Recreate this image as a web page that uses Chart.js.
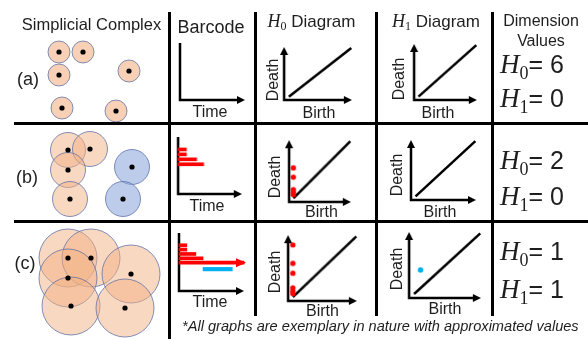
<!DOCTYPE html>
<html>
<head>
<meta charset="utf-8">
<script src="https://cdn.jsdelivr.net/npm/chart.js@4.4.0/dist/chart.umd.min.js"></script>
<style>
html, body { margin: 0; padding: 0; background: #fff; }
body { width: 588px; height: 339px; position: relative; overflow: hidden; font-family: "Liberation Sans", Arial, sans-serif; color: #1e1e1e; }
canvas { position: absolute; z-index: 1; }
.ln { position: absolute; background: #000; z-index: 3; }
.t { position: absolute; z-index: 4; white-space: nowrap; line-height: 1; transform: translate(-50%, -50%); }
.l { position: absolute; z-index: 4; white-space: nowrap; line-height: 1; transform: translateY(-50%); }
.H { font-family: "Liberation Serif", "DejaVu Serif", serif; font-style: italic; }
.sub { font-family: "Liberation Serif", "DejaVu Serif", serif; position: relative; }
.rot { transform: translate(-50%, -50%) rotate(-90deg); }
</style>
</head>
<body>

<!-- table lines -->
<div class="ln" style="left:14px;top:122px;width:574px;height:3px"></div>
<div class="ln" style="left:14px;top:219.5px;width:574px;height:3px"></div>
<div class="ln" style="left:167.5px;top:12px;width:3px;height:327px"></div>
<div class="ln" style="left:253.5px;top:12px;width:3px;height:304px"></div>
<div class="ln" style="left:374.5px;top:12px;width:3px;height:304px"></div>
<div class="ln" style="left:490.5px;top:12px;width:3px;height:304px"></div>

<!-- headers -->
<div class="t" style="left:91.5px;top:24px;font-size:16.5px">Simplicial Complex</div>
<div class="t" style="left:211px;top:27px;font-size:18px">Barcode</div>
<div class="t" style="left:311.5px;top:21px;font-size:17px"><span class="H" style="font-size:18px">H</span><span class="sub" style="font-size:12px;top:3px">0</span> Diagram</div>
<div class="t" style="left:436px;top:21px;font-size:17px"><span class="H" style="font-size:18px">H</span><span class="sub" style="font-size:12px;top:3px">1</span> Diagram</div>
<div class="t" style="left:541px;top:21px;font-size:16px">Dimension</div>
<div class="t" style="left:541px;top:41px;font-size:16px">Values</div>

<!-- row labels -->
<div class="t" style="left:28px;top:79px;font-size:18px">(a)</div>
<div class="t" style="left:27px;top:177px;font-size:18px">(b)</div>
<div class="t" style="left:25px;top:263px;font-size:18px">(c)</div>

<!-- axis labels -->
<div class="t" style="left:210px;top:112px;font-size:16px">Time</div>
<div class="t" style="left:207px;top:206px;font-size:16px">Time</div>
<div class="t" style="left:210px;top:302px;font-size:16px">Time</div>

<div class="t" style="left:319px;top:113px;font-size:16px">Birth</div>
<div class="t" style="left:438px;top:113px;font-size:16px">Birth</div>
<div class="t" style="left:321.5px;top:212px;font-size:16px">Birth</div>
<div class="t" style="left:440px;top:212px;font-size:16px">Birth</div>
<div class="t" style="left:322.5px;top:311px;font-size:16px">Birth</div>
<div class="t" style="left:445px;top:309px;font-size:16px">Birth</div>

<div class="t rot" style="left:273px;top:80px;font-size:16px">Death</div>
<div class="t rot" style="left:399px;top:79px;font-size:16px">Death</div>
<div class="t rot" style="left:275px;top:177px;font-size:16px">Death</div>
<div class="t rot" style="left:397px;top:175px;font-size:16px">Death</div>
<div class="t rot" style="left:275px;top:272px;font-size:16px">Death</div>
<div class="t rot" style="left:397px;top:269px;font-size:16px">Death</div>

<!-- dimension values -->
<div class="l" style="left:500px;top:64px;font-size:25px"><span class="H" style="font-size:27px">H</span><span class="sub" style="font-size:18px;top:6px">0</span>= 6</div>
<div class="l" style="left:500px;top:98px;font-size:25px"><span class="H" style="font-size:27px">H</span><span class="sub" style="font-size:18px;top:6px">1</span>= 0</div>
<div class="l" style="left:500px;top:160px;font-size:25px"><span class="H" style="font-size:27px">H</span><span class="sub" style="font-size:18px;top:6px">0</span>= 2</div>
<div class="l" style="left:500px;top:196px;font-size:25px"><span class="H" style="font-size:27px">H</span><span class="sub" style="font-size:18px;top:6px">1</span>= 0</div>
<div class="l" style="left:500px;top:251px;font-size:25px"><span class="H" style="font-size:27px">H</span><span class="sub" style="font-size:18px;top:6px">0</span>= 1</div>
<div class="l" style="left:500px;top:289px;font-size:25px"><span class="H" style="font-size:27px">H</span><span class="sub" style="font-size:18px;top:6px">1</span>= 1</div>

<div class="l" style="left:182px;top:326px;font-size:14.6px;font-style:italic">*All graphs are exemplary in nature with approximated values</div>

<script>
// ---- simplicial complexes: point centres [x, y] ----
const complexA = [[2.9, 7.3], [5.3, 7.3], [2.9, 5.0], [9.9, 5.4], [3.2, 1.7], [8.6, 1.4]];
const complexB_orange = [[3.8, 7.2], [6.0, 7.3], [3.8, 5.2], [4.0, 2.3]];
const complexB_blue = [[10.2, 5.5], [9.3, 2.3]];
const complexC = [[3.8, 8.1], [6.1, 8.1], [3.8, 6.1], [4.1, 3.3], [10.1, 6.5], [9.5, 3.1]];

// ---- barcodes: [birth, death] ----
const barcodeB_H0 = [[0, 1.3], [0, 1.3], [0, 2.9], [0, 4.0]];
const barcodeC_H0 = [[0, 1.2], [0, 1.2], [0, 2.6], [0, 3.7], [0, Infinity]];
const barcodeC_H1 = [[3.7, 8.2]];
const TIME_MAX = 10;

// ---- persistence diagrams ----
const diagonal = [0, 9.2];
const diagramB_H0_death = [4.9, 3.4, 1.4, 1.0, 0.6];
const diagramC_H0_death = [7.9, 5.1, 3.6, 1.4, 0.9, 0.5];
const diagramC_H1 = [[0.9, 3.65]];

const RED = '#ff0000';
const BLUE = '#00b0f0';
const ORANGE_FILL = 'rgba(244, 177, 131, 0.5)';
const BLUE_FILL = 'rgba(143, 170, 220, 0.6)';
const EDGE = 'rgba(90, 110, 165, 0.75)';

function toPoints(list) {
    return list.map(p => ({ x: p[0], y: p[1] }));
}

function head(ctx, x, y, dir, half, len) {
    ctx.beginPath();
    if (dir === 'right') {
        ctx.moveTo(x, y);
        ctx.lineTo(x - len, y - half);
        ctx.lineTo(x - len, y + half);
    } else {
        ctx.moveTo(x, y);
        ctx.lineTo(x - half, y + len);
        ctx.lineTo(x + half, y + len);
    }
    ctx.closePath();
    ctx.fill();
}

// L-shaped axes with arrow heads, drawn from the chart area
const arrowAxes = {
    id: 'arrowAxes',
    beforeDatasetsDraw(chart, args, opts) {
        const a = chart.chartArea;
        const ctx = chart.ctx;
        ctx.save();
        ctx.strokeStyle = '#000';
        ctx.fillStyle = '#000';
        ctx.lineWidth = 2.5;
        ctx.beginPath();
        ctx.moveTo(a.left, a.top + (opts.yArrow ? 6 : 0));
        ctx.lineTo(a.left, a.bottom);
        ctx.lineTo(a.right - 6, a.bottom);
        ctx.stroke();
        head(ctx, a.right, a.bottom, 'right', 4, 8);
        if (opts.yArrow) head(ctx, a.left, a.top, 'up', 4, 8);
        ctx.restore();
    }
};

// arrow heads on bars that never die
const infiniteBars = {
    id: 'infiniteBars',
    afterDatasetsDraw(chart) {
        const ctx = chart.ctx;
        const max = chart.scales.x.max;
        chart.data.datasets.forEach((ds, i) => {
            const meta = chart.getDatasetMeta(i);
            meta.data.forEach((el, j) => {
                const p = meta._parsed[j];
                if (p && p._custom && p._custom.barEnd >= max) {
                    ctx.save();
                    ctx.fillStyle = ds.backgroundColor;
                    head(ctx, el.x + 2, el.y, 'right', 4.5, 10);
                    ctx.restore();
                }
            });
        });
    }
};

function makeCanvas(left, top, width, height) {
    const c = document.createElement('canvas');
    c.width = width;
    c.height = height;
    c.style.left = left + 'px';
    c.style.top = top + 'px';
    c.style.width = width + 'px';
    c.style.height = height + 'px';
    document.body.appendChild(c);
    return c;
}

const baseOptions = {
    responsive: false,
    animation: false,
    events: [],
    plugins: { legend: { display: false }, tooltip: { enabled: false } }
};

function complexChart(frame, yMax, datasets) {
    const c = makeCanvas(frame[0], frame[1], frame[2], frame[3]);
    return new Chart(c, {
        type: 'scatter',
        data: { datasets: datasets },
        options: Object.assign({}, baseOptions, {
            layout: { padding: 0, autoPadding: false },
            scales: {
                x: { type: 'linear', min: 0, max: 14, display: false },
                y: { type: 'linear', min: 0, max: yMax, display: false }
            }
        })
    });
}

// higher order is drawn first (underneath)
function circles(list, r, fill) {
    return { data: toPoints(list), pointRadius: r, backgroundColor: fill, borderColor: EDGE, borderWidth: 1, clip: false, order: 2 };
}
function dots(list) {
    return { data: toPoints(list), pointRadius: 2.6, backgroundColor: '#000', borderWidth: 0, clip: false, order: 0 };
}

complexChart([30, 20, 140, 105], 10.5, [
    circles(complexA, 11, 'rgba(244, 177, 131, 0.6)'),
    dots(complexA)
]);
complexChart([30, 122, 140, 100], 10, [
    circles(complexB_orange, 17.5, ORANGE_FILL),
    circles(complexB_blue, 17.5, BLUE_FILL),
    dots(complexB_orange.concat(complexB_blue))
]);
complexChart([30, 220, 140, 119], 11.9, [
    circles(complexC, 29, ORANGE_FILL),
    dots(complexC)
]);

// box = [origin x, axis bottom, x tip, y tip]
const P = 6;
function barcodeChart(box, yMax, datasets) {
    const c = makeCanvas(box[0] - P, box[3] - P, box[2] - box[0] + 2 * P, box[1] - box[3] + 2 * P);
    return new Chart(c, {
        type: 'bar',
        data: { datasets: datasets },
        options: Object.assign({}, baseOptions, {
            indexAxis: 'y',
            layout: { padding: P, autoPadding: false },
            plugins: Object.assign({}, baseOptions.plugins, { arrowAxes: { yArrow: false } }),
            scales: {
                x: { type: 'linear', min: 0, max: TIME_MAX, display: false },
                y: { type: 'linear', min: 0.4, max: yMax, reverse: true, display: false }
            }
        }),
        plugins: [arrowAxes, infiniteBars]
    });
}

function bars(list, offset, color, thick) {
    return {
        data: list.map((b, i) => ({ y: offset + i + 1, x: [b[0], b[1] === Infinity ? TIME_MAX : b[1]] })),
        backgroundColor: color,
        borderWidth: 0,
        grouped: false,
        barThickness: thick,
        maxBarThickness: thick,
        clip: false
    };
}

barcodeChart([180, 100, 245, 43], 8.1, []);
barcodeChart([178.3, 194, 242, 137], 8.1, [bars(barcodeB_H0, 0, RED, 3)]);
barcodeChart([179, 291, 244, 233], 9.3, [
    bars(barcodeC_H0, 0, RED, 3),
    bars(barcodeC_H1, barcodeC_H0.length + 0.5, BLUE, 3.5)
]);

function diagramChart(box, datasets) {
    const c = makeCanvas(box[0] - P, box[3] - P, box[2] - box[0] + 2 * P, box[1] - box[3] + 2 * P);
    const all = [{
        type: 'line',
        data: diagonal.map(v => ({ x: v, y: v })),
        borderColor: '#000',
        borderWidth: 2.5,
        pointRadius: 0,
        clip: false,
        order: 2
    }].concat(datasets);
    return new Chart(c, {
        type: 'scatter',
        data: { datasets: all },
        options: Object.assign({}, baseOptions, {
            layout: { padding: P, autoPadding: false },
            plugins: Object.assign({}, baseOptions.plugins, { arrowAxes: { yArrow: true } }),
            scales: {
                x: { type: 'linear', min: -0.7, max: 9.3, display: false },
                y: { type: 'linear', min: -0.6, max: 9.4, display: false }
            }
        }),
        plugins: [arrowAxes]
    });
}

function h0Points(deaths) {
    return { data: deaths.map(d => ({ x: 0, y: d })), pointRadius: 2.6, backgroundColor: RED, borderWidth: 0, clip: false, order: 0 };
}

diagramChart([284, 100, 351.7, 46.7], []);
diagramChart([414, 100, 476.7, 44], []);
diagramChart([289.3, 201.7, 350.7, 140], [h0Points(diagramB_H0_death)]);
diagramChart([411, 200, 476, 140], []);
diagramChart([288.3, 300.7, 356.7, 235], [h0Points(diagramC_H0_death)]);
diagramChart([409.3, 298.3, 481, 231.7], [
    { data: toPoints(diagramC_H1), pointRadius: 2.7, backgroundColor: BLUE, borderWidth: 0, clip: false, order: 0 }
]);
</script>
</body>
</html>
